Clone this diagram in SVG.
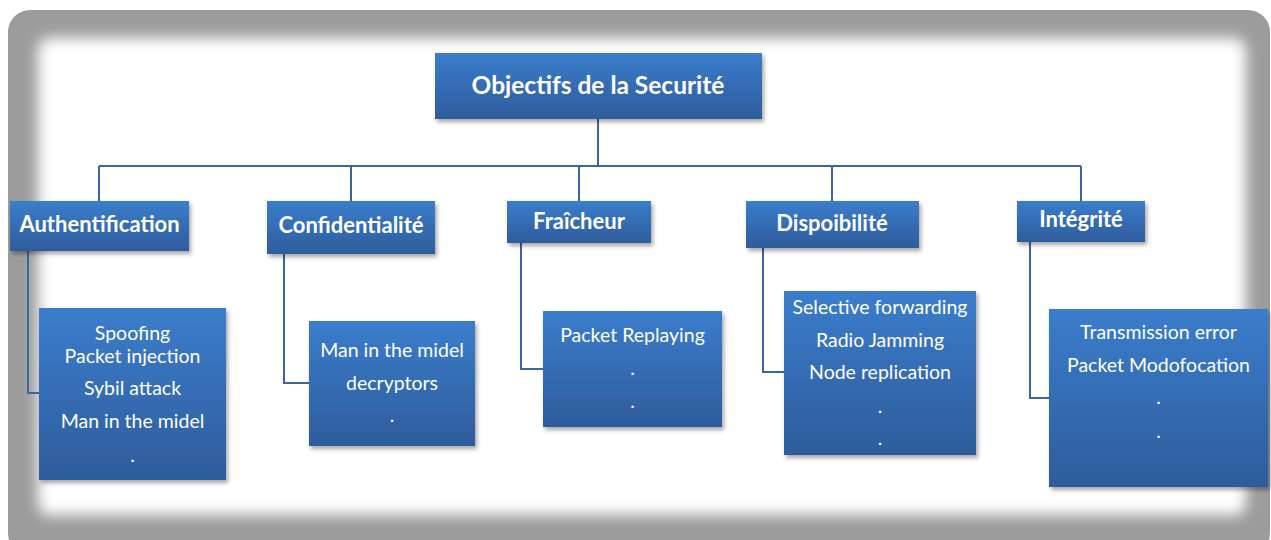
<svg xmlns="http://www.w3.org/2000/svg" width="1271" height="540" viewBox="0 0 1271 540">
  <style>
    .box { fill: url(#boxGrad); filter: url(#shadow); }
    .head { font-family: Lato, "Open Sans", sans-serif; font-weight: bold; fill: #ffffff; text-anchor: middle; }
    .item { font-family: Lato, "Open Sans", sans-serif; font-size: 19.5px; fill: #ffffff; text-anchor: middle; }
    .link { fill: none; stroke: #3e659b; stroke-width: 2; }
  </style>
  <defs>
    <linearGradient id="boxGrad" x1="0" y1="0" x2="0" y2="1">
      <stop offset="0" stop-color="#3b7dcc"/>
      <stop offset="1" stop-color="#2e5c9b"/>
    </linearGradient>
    <filter id="shadow" x="-10%" y="-10%" width="130%" height="130%">
      <feDropShadow dx="2" dy="3" stdDeviation="2" flood-color="#000000" flood-opacity="0.35"/>
    </filter>
    <filter id="soft" x="-5%" y="-5%" width="110%" height="110%">
      <feGaussianBlur stdDeviation="7"/>
    </filter>
  </defs>

  <!-- page background and framed panel -->
  <rect x="0" y="0" width="1271" height="540" fill="#ffffff"/>
  <rect x="8" y="10" width="1262" height="545" rx="22" fill="#9c9c9c"/>
  <rect x="38" y="38" width="1208" height="477" rx="12" fill="#ffffff" filter="url(#soft)"/>

  <!-- connectors -->
  <g id="connectors">
    <path class="link" d="M598,119 V166" stroke-width="3"/>
    <path class="link" d="M99,166 H1081" stroke-width="2.5"/>
    <path class="link" d="M99,166 V201"/>
    <path class="link" d="M351,166 V201"/>
    <path class="link" d="M579,166 V201"/>
    <path class="link" d="M832,166 V201"/>
    <path class="link" d="M1081,166 V201"/>
    <path class="link" d="M28,251 V393 H39"/>
    <path class="link" d="M284,254 V383 H309"/>
    <path class="link" d="M521,243 V369 H543"/>
    <path class="link" d="M763,248 V372 H784"/>
    <path class="link" d="M1030,242 V398 H1049"/>
  </g>

  <!-- root -->
  <g id="node-root">
    <rect class="box" x="435" y="53" width="327" height="66"/>
    <text class="head" x="598" y="94" font-size="24.5">Objectifs de la Securité</text>
  </g>

  <!-- category headers -->
  <g id="node-authentification">
    <rect class="box" x="10" y="201" width="179" height="50"/>
    <text class="head" x="99.5" y="232" font-size="22">Authentification</text>
  </g>
  <g id="node-confidentialite">
    <rect class="box" x="267" y="201" width="168" height="53"/>
    <text class="head" x="351" y="233" font-size="22">Confidentialité</text>
  </g>
  <g id="node-fraicheur">
    <rect class="box" x="507" y="201" width="144" height="42"/>
    <text class="head" x="579" y="229" font-size="22">Fraîcheur</text>
  </g>
  <g id="node-disponibilite">
    <rect class="box" x="746" y="201" width="173" height="47"/>
    <text class="head" x="832" y="231" font-size="22">Dispoibilité</text>
  </g>
  <g id="node-integrite">
    <rect class="box" x="1017" y="201" width="128" height="41"/>
    <text class="head" x="1081" y="227" font-size="22">Intégrité</text>
  </g>

  <!-- attack lists -->
  <g id="node-auth-attacks">
    <rect class="box" x="39" y="308" width="187" height="172"/>
    <text class="item" x="132.5" y="340">Spoofing</text>
    <text class="item" x="132.5" y="363">Packet injection</text>
    <text class="item" x="132.5" y="395">Sybil attack</text>
    <text class="item" x="132.5" y="428">Man in the midel</text>
    <text class="item" x="132.5" y="462">.</text>
  </g>
  <g id="node-conf-attacks">
    <rect class="box" x="309" y="321" width="166" height="125"/>
    <text class="item" x="392" y="357">Man in the midel</text>
    <text class="item" x="392" y="390">decryptors</text>
    <text class="item" x="392" y="422">.</text>
  </g>
  <g id="node-fresh-attacks">
    <rect class="box" x="543" y="311" width="179" height="116"/>
    <text class="item" x="632.5" y="342">Packet Replaying</text>
    <text class="item" x="632.5" y="375">.</text>
    <text class="item" x="632.5" y="408">.</text>
  </g>
  <g id="node-dispo-attacks">
    <rect class="box" x="784" y="291" width="192" height="164"/>
    <text class="item" x="880" y="314">Selective forwarding</text>
    <text class="item" x="880" y="347">Radio Jamming</text>
    <text class="item" x="880" y="379">Node replication</text>
    <text class="item" x="880" y="413">.</text>
    <text class="item" x="880" y="445">.</text>
  </g>
  <g id="node-integ-attacks">
    <rect class="box" x="1049" y="309" width="219" height="178"/>
    <text class="item" x="1158.5" y="339">Transmission error</text>
    <text class="item" x="1158.5" y="372">Packet Modofocation</text>
    <text class="item" x="1158.5" y="404">.</text>
    <text class="item" x="1158.5" y="438">.</text>
  </g>
</svg>
